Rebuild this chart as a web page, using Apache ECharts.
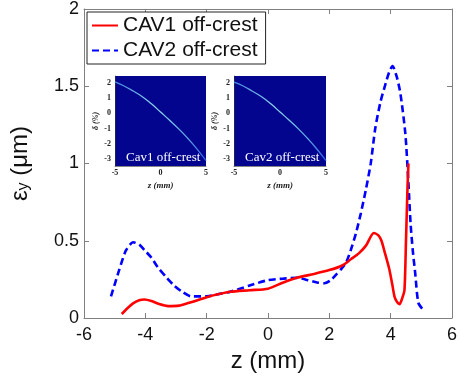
<!DOCTYPE html>
<html>
<head>
<meta charset="utf-8">
<script src="https://cdn.jsdelivr.net/npm/echarts@6/dist/echarts.min.js"></script>
<style>
html,body{margin:0;padding:0;background:#fff;}
#chart{width:460px;height:387px;}
</style>
</head>
<body>
<div id="chart"></div>
<script>
// Vertical emittance along the bunch for two off-crest cavity settings
const cav1Z = [-4.77, -4.6, -4.4, -4.2, -4.03, -3.8, -3.55, -3.26, -2.9, -2.6, -2.3, -2.0, -1.6, -1.23, -0.6, 0, 0.5, 0.93, 1.5, 2.0, 2.42, 2.7, 2.97, 3.2, 3.45, 3.6, 3.7, 3.8, 3.95, 4.05, 4.13, 4.22, 4.29, 4.38, 4.45, 4.5, 4.55, 4.58];
const cav1Y = [0.026, 0.06, 0.095, 0.115, 0.12, 0.11, 0.09, 0.077, 0.08, 0.097, 0.115, 0.135, 0.155, 0.17, 0.18, 0.19, 0.23, 0.26, 0.285, 0.31, 0.34, 0.38, 0.42, 0.47, 0.55, 0.535, 0.5, 0.43, 0.32, 0.22, 0.135, 0.1, 0.09, 0.13, 0.18, 0.5, 0.85, 1.0];

const cav2Z = [-5.12, -4.87, -4.65, -4.5, -4.4, -4.2, -4.03, -3.8, -3.6, -3.3, -3.06, -2.8, -2.5, -2.0, -1.6, -1.23, -0.6, 0, 0.5, 0.93, 1.3, 1.6, 1.84, 2.05, 2.22, 2.4, 2.55, 2.7, 2.87, 3.03, 3.19, 3.35, 3.5, 3.67, 3.84, 3.95, 4.06, 4.2, 4.32, 4.48, 4.58, 4.65, 4.72, 4.8, 4.9, 5.03];
const cav2Y = [0.14, 0.30, 0.43, 0.475, 0.49, 0.475, 0.44, 0.39, 0.33, 0.26, 0.21, 0.17, 0.14, 0.14, 0.155, 0.17, 0.21, 0.245, 0.255, 0.26, 0.245, 0.23, 0.225, 0.245, 0.28, 0.32, 0.36, 0.44, 0.55, 0.68, 0.83, 1.0, 1.23, 1.40, 1.52, 1.59, 1.63, 1.56, 1.45, 1.19, 0.87, 0.61, 0.44, 0.29, 0.1, 0.06];

// Longitudinal phase space (z vs energy deviation) shown in the two insets
const phaseZ = [-5, -4, -3, -2, -1, 0, 1, 2, 3, 4, 5];
const phaseCav1 = [2.07, 1.8, 1.47, 1.1, 0.63, 0.09, -0.45, -1.02, -1.64, -2.33, -3.1];
const phaseCav2 = [2.05, 1.8, 1.46, 1.09, 0.63, 0.09, -0.45, -1.02, -1.65, -2.34, -3.1];

const xTicks = [-6, 6, 2];
const yTicks = [0, 2, 0.5];
const insetYTicks = [-3, -2, -1, 0, 1, 2];
const insetXTicks = [-5, 0, 5];

const pairs = (xs, ys) => xs.map((x, i) => [x, ys[i]]);

const SANS = '"Liberation Sans", Arial, sans-serif';
const SERIF = '"Liberation Serif", "Times New Roman", serif';
const FRAME = '#808080';

const chart = echarts.init(document.getElementById('chart'));

function insetX(gridIndex) {
  return {
    type: 'value', gridIndex: gridIndex, min: -5, max: 5,
    axisLine: { show: true, onZero: false, lineStyle: { color: '#333', width: 0.6 } },
    axisTick: { show: false },
    splitLine: { show: false },
    axisLabel: { customValues: insetXTicks, margin: 3, fontFamily: SERIF, fontWeight: 'bold', fontSize: 8, color: '#222' },
    name: 'z (mm)', nameLocation: 'middle', nameGap: 15,
    nameTextStyle: { fontFamily: SERIF, fontStyle: 'italic', fontWeight: 'bold', fontSize: 9, color: '#222' }
  };
}
function insetY(gridIndex) {
  return {
    type: 'value', gridIndex: gridIndex, min: -3.46, max: 2.46,
    axisLine: { show: true, onZero: false, lineStyle: { color: '#333', width: 0.6 } },
    axisTick: { show: false },
    splitLine: { show: false },
    axisLabel: { customValues: insetYTicks, margin: 4, fontFamily: SERIF, fontWeight: 'bold', fontSize: 8, color: '#222' },
    name: 'δ (%)', nameLocation: 'middle', nameGap: 12, nameRotate: 90,
    nameTextStyle: { fontFamily: SERIF, fontStyle: 'italic', fontWeight: 'bold', fontSize: 8, color: '#222' }
  };
}
const phaseLineColor = new echarts.graphic.LinearGradient(0, 0, 1, 0, [
  { offset: 0, color: '#3d7fe0' },
  { offset: 0.45, color: '#8fd6e6' },
  { offset: 0.8, color: '#5fa8ea' },
  { offset: 1, color: '#2550e0' }
]);

chart.setOption({
  animation: false,
  backgroundColor: '#ffffff',
  grid: [
    { left: 82, top: 8, width: 372, height: 310 },
    { left: 115, top: 76, width: 91, height: 90, show: true, backgroundColor: '#03058f', borderWidth: 0 },
    { left: 234, top: 76, width: 92, height: 90, show: true, backgroundColor: '#03058f', borderWidth: 0 }
  ],
  legend: {
    left: 87, top: 12,
    orient: 'vertical',
    backgroundColor: '#fff',
    borderColor: '#222', borderWidth: 1,
    padding: [3, 8, 3, 4],
    itemWidth: 26, itemHeight: 14, itemGap: 4,
    itemStyle: { opacity: 0 },
    textStyle: { fontFamily: SANS, fontSize: 21, color: '#111' },
    data: ['CAV1 off-crest', 'CAV2 off-crest']
  },
  xAxis: [
    {
      type: 'value', gridIndex: 0, min: xTicks[0], max: xTicks[1], interval: xTicks[2],
      axisLine: { show: true, onZero: false, lineStyle: { color: FRAME, width: 1 } },
      axisTick: { show: true, inside: true, length: 5, lineStyle: { color: FRAME } },
      splitLine: { show: false },
      axisLabel: { margin: 8, fontFamily: SANS, fontSize: 18, color: '#111' },
      name: 'z (mm)', nameLocation: 'middle', nameGap: 31,
      nameTextStyle: { fontFamily: SANS, fontSize: 24, color: '#111' }
    },
    {
      type: 'value', gridIndex: 0, position: 'top', min: xTicks[0], max: xTicks[1], interval: xTicks[2],
      axisLine: { show: true, onZero: false, lineStyle: { color: FRAME, width: 1 } },
      axisTick: { show: true, inside: true, length: 5, lineStyle: { color: FRAME } },
      axisLabel: { show: false }, splitLine: { show: false }
    },
    insetX(1),
    insetX(2)
  ],
  yAxis: [
    {
      type: 'value', gridIndex: 0, min: yTicks[0], max: yTicks[1], interval: yTicks[2],
      axisLine: { show: true, onZero: false, lineStyle: { color: FRAME, width: 1 } },
      axisTick: { show: true, inside: true, length: 5, lineStyle: { color: FRAME } },
      splitLine: { show: false },
      axisLabel: { margin: 5, fontFamily: SANS, fontSize: 18, color: '#111' },
      name: '{e|ε}{s|y}{e| (μm)}', nameLocation: 'middle', nameGap: 52, nameRotate: 90,
      nameTextStyle: {
        fontFamily: SANS, fontSize: 24, color: '#111',
        rich: {
          e: { fontFamily: SANS, fontSize: 24, color: '#111' },
          s: { fontFamily: SANS, fontSize: 16, color: '#111', verticalAlign: 'bottom', padding: [8, 0, 0, 0] }
        }
      }
    },
    {
      type: 'value', gridIndex: 0, position: 'right', min: yTicks[0], max: yTicks[1], interval: yTicks[2],
      axisLine: { show: true, onZero: false, lineStyle: { color: FRAME, width: 1 } },
      axisTick: { show: true, inside: true, length: 5, lineStyle: { color: FRAME } },
      axisLabel: { show: false }, splitLine: { show: false }
    },
    insetY(1),
    insetY(2)
  ],
  series: [
    {
      name: 'CAV1 off-crest', type: 'line', xAxisIndex: 0, yAxisIndex: 0,
      data: pairs(cav1Z, cav1Y), symbol: 'none', smooth: 0.25, z: 4,
      lineStyle: { color: '#ff0000', width: 2.6 }, itemStyle: { color: '#ff0000' }
    },
    {
      name: 'CAV2 off-crest', type: 'line', xAxisIndex: 0, yAxisIndex: 0,
      data: pairs(cav2Z, cav2Y), symbol: 'none', smooth: 0.25, z: 3,
      lineStyle: { color: '#0000ff', width: 2.6, type: [7, 4] }, itemStyle: { color: '#0000ff' }
    },
    {
      name: 'phase1', type: 'line', xAxisIndex: 2, yAxisIndex: 2,
      data: pairs(phaseZ, phaseCav1), symbol: 'none', smooth: 0.5, silent: true,
      lineStyle: { color: phaseLineColor, width: 1.3 }
    },
    {
      name: 'phase2', type: 'line', xAxisIndex: 3, yAxisIndex: 3,
      data: pairs(phaseZ, phaseCav2), symbol: 'none', smooth: 0.5, silent: true,
      lineStyle: { color: phaseLineColor, width: 1.3 }
    }
  ],
  graphic: [
    { type: 'text', left: 126, top: 151, z: 100,
      style: { text: 'Cav1 off-crest', fill: '#ffffff', font: '13px "Liberation Serif", "Times New Roman", serif' } },
    { type: 'text', left: 245, top: 151, z: 100,
      style: { text: 'Cav2 off-crest', fill: '#ffffff', font: '13px "Liberation Serif", "Times New Roman", serif' } }
  ]
});
</script>
</body>
</html>
